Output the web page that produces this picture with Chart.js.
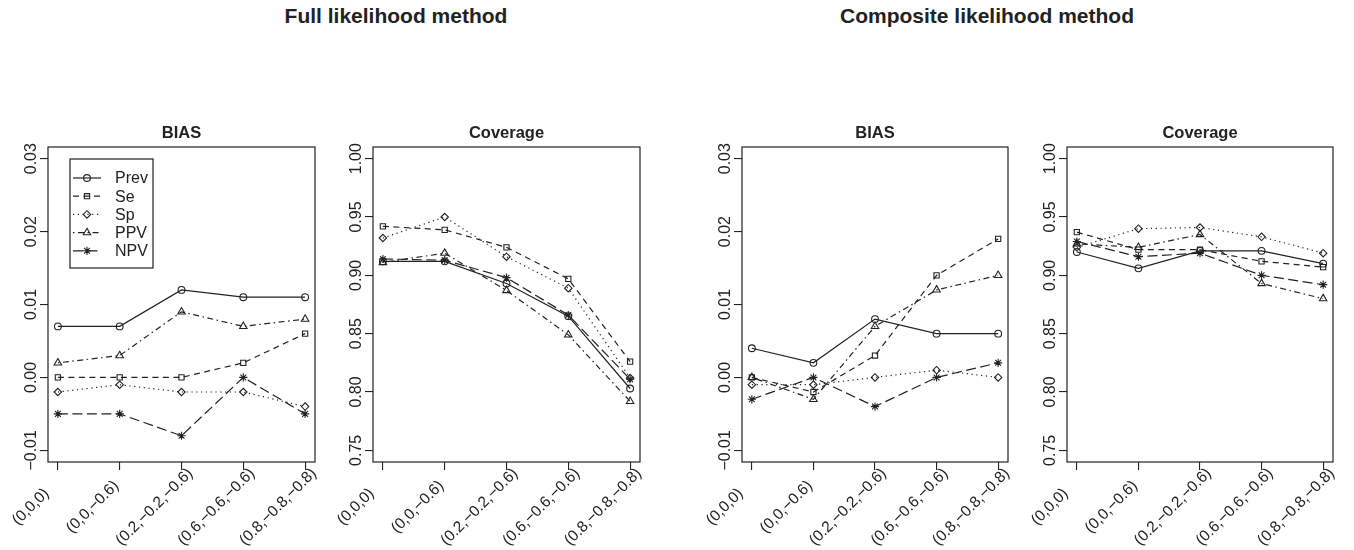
<!DOCTYPE html>
<html><head><meta charset="utf-8">
<script src="https://cdn.jsdelivr.net/npm/chart.js@4.4.1/dist/chart.umd.min.js"></script>
<style>
html,body{margin:0;padding:0;background:#fff;}
#wrap{position:relative;width:1354px;height:550px;overflow:hidden;background:#fff;}
canvas{position:absolute;left:0;top:0;}
.mt{position:absolute;top:4px;width:500px;text-align:center;font:bold 21px "Liberation Sans",Arial,sans-serif;line-height:24px;color:#222;}
</style></head><body>
<div id="wrap">
<div class="mt" style="left:146px">Full likelihood method</div>
<div class="mt" style="left:737px">Composite likelihood method</div>
<canvas id="c1" width="1354" height="550"></canvas>
<canvas id="c2" width="1354" height="550"></canvas>
<canvas id="c3" width="1354" height="550"></canvas>
<canvas id="c4" width="1354" height="550"></canvas>
</div>
<script>
// ---------- data ----------
const categories = ['(0,0,0)', '(0,0,\u22120.6)', '(0.2,\u22120.2,\u22120.6)', '(0.6,\u22120.6,\u22120.6)', '(0.8,\u22120.8,\u22120.8)'];
const seriesNames = ['Prev', 'Se', 'Sp', 'PPV', 'NPV'];
const biasTicks = [-0.01, 0.00, 0.01, 0.02, 0.03];
const biasTickLabels = ['\u22120.01', '0.00', '0.01', '0.02', '0.03'];
const coverageTicks = [0.75, 0.80, 0.85, 0.90, 0.95, 1.00];
const coverageTickLabels = ['0.75', '0.80', '0.85', '0.90', '0.95', '1.00'];

// Full likelihood method - BIAS
const fullBiasPrev = [0.007, 0.007, 0.012, 0.011, 0.011];
const fullBiasSe   = [0.000, 0.000, 0.000, 0.002, 0.006];
const fullBiasSp   = [-0.002, -0.001, -0.002, -0.002, -0.004];
const fullBiasPPV  = [0.002, 0.003, 0.009, 0.007, 0.008];
const fullBiasNPV  = [-0.005, -0.005, -0.008, 0.000, -0.005];

// Full likelihood method - Coverage
const fullCovPrev = [0.912, 0.912, 0.893, 0.865, 0.803];
const fullCovSe   = [0.942, 0.939, 0.924, 0.897, 0.826];
const fullCovSp   = [0.932, 0.950, 0.916, 0.889, 0.812];
const fullCovPPV  = [0.911, 0.919, 0.887, 0.849, 0.792];
const fullCovNPV  = [0.914, 0.913, 0.898, 0.866, 0.811];

// Composite likelihood method - BIAS
const compBiasPrev = [0.004, 0.002, 0.008, 0.006, 0.006];
const compBiasSe   = [0.000, -0.002, 0.003, 0.014, 0.019];
const compBiasSp   = [-0.001, -0.001, 0.000, 0.001, 0.000];
const compBiasPPV  = [0.000, -0.003, 0.007, 0.012, 0.014];
const compBiasNPV  = [-0.003, 0.000, -0.004, 0.000, 0.002];

// Composite likelihood method - Coverage
const compCovPrev = [0.920, 0.906, 0.921, 0.921, 0.910];
const compCovSe   = [0.937, 0.922, 0.922, 0.912, 0.907];
const compCovSp   = [0.924, 0.940, 0.941, 0.933, 0.919];
const compCovPPV  = [0.927, 0.924, 0.935, 0.893, 0.880];
const compCovNPV  = [0.929, 0.916, 0.919, 0.900, 0.892];

// ---------- styling ----------
const INK = '#222';
const FONT = '"Liberation Sans", Arial, Helvetica, sans-serif';
const seriesStyles = [
  {pointStyle: 'circle',   radius: 3.4, dash: []},
  {pointStyle: 'rect',     radius: 3.7, dash: [6, 4.5]},
  {pointStyle: 'rectRot',  radius: 3.7, dash: [1.2, 3.6]},
  {pointStyle: 'triangle', radius: 4.3, dash: [1.5, 3.5, 6, 3.5]},
  {pointStyle: 'star',     radius: 4.1, dash: [10, 4.5]}
];

function extRange(lo, hi) { const d = (hi - lo) * 0.04; return [lo - d, hi + d]; }

function makeDatasets(arrs) {
  return arrs.map((vals, k) => ({
    label: seriesNames[k],
    data: vals.map((v, i) => ({x: i + 1, y: v})),
    borderColor: INK,
    borderWidth: 1.2,
    borderDash: seriesStyles[k].dash,
    pointStyle: seriesStyles[k].pointStyle,
    pointRadius: seriesStyles[k].radius,
    pointBorderWidth: 1.1,
    pointBorderColor: INK,
    pointBackgroundColor: 'rgba(0,0,0,0)',
    fill: false,
    tension: 0
  }));
}

function drawMarker(ctx, style, radius, x, y) {
  ctx.setLineDash([]);
  ctx.strokeStyle = INK; ctx.fillStyle = 'rgba(0,0,0,0)'; ctx.lineWidth = 1.1;
  if (Chart.helpers && Chart.helpers.drawPoint) {
    Chart.helpers.drawPoint(ctx, {pointStyle: style, radius: radius, rotation: 0, borderWidth: 1.1}, x, y);
  } else {
    ctx.beginPath(); ctx.arc(x, y, radius, 0, Math.PI * 2); ctx.stroke();
  }
}

const decorPlugin = {
  id: 'decor',
  afterDraw(chart) {
    const cfg = chart.options.plugins.decor;
    const ctx = chart.ctx, a = chart.chartArea;
    ctx.save();
    ctx.setLineDash([]);
    ctx.strokeStyle = INK; ctx.lineWidth = 1.2;
    ctx.strokeRect(a.left, a.top, a.right - a.left, a.bottom - a.top);
    ctx.fillStyle = INK;
    // panel title
    ctx.font = 'bold 16.5px ' + FONT;
    ctx.textAlign = 'center'; ctx.textBaseline = 'alphabetic';
    ctx.fillText(cfg.title, (a.left + a.right) / 2, a.top - 9);
    // y tick labels (parallel to axis)
    const ys = chart.scales.y;
    ctx.font = '16px ' + FONT;
    cfg.yTicks.forEach((v, i) => {
      const py = ys.getPixelForValue(v);
      ctx.save(); ctx.translate(a.left - 12, py); ctx.rotate(-Math.PI / 2);
      ctx.textAlign = 'center'; ctx.textBaseline = 'alphabetic';
      ctx.fillText(cfg.yLabels[i], 0, 0); ctx.restore();
    });
    // x tick labels (45 degrees)
    const xs = chart.scales.x;
    ctx.font = '15.5px ' + FONT;
    categories.forEach((c, i) => {
      const px = xs.getPixelForValue(i + 1);
      ctx.save(); ctx.translate(px - 27, a.bottom + 45); ctx.rotate(-Math.PI / 4);
      ctx.textAlign = 'center'; ctx.textBaseline = 'middle';
      ctx.fillText(c, 0, 0); ctx.restore();
    });
    // legend
    if (cfg.legend) {
      const lx = a.left + 22, ly = a.top + 12;
      ctx.lineWidth = 1.2; ctx.strokeStyle = INK;
      ctx.strokeRect(lx, ly, 83, 109);
      chart.data.datasets.forEach((ds, k) => {
        const y = a.top + 31 + k * 18.2;
        ctx.save();
        ctx.setLineDash(ds.borderDash || []);
        ctx.lineWidth = 1.2; ctx.strokeStyle = INK;
        ctx.beginPath(); ctx.moveTo(a.left + 25, y); ctx.lineTo(a.left + 53, y); ctx.stroke();
        drawMarker(ctx, ds.pointStyle, ds.pointRadius, a.left + 39, y);
        ctx.restore();
        ctx.fillStyle = INK; ctx.font = '16px ' + FONT;
        ctx.textAlign = 'left'; ctx.textBaseline = 'middle';
        ctx.fillText(ds.label, a.left + 67, y + 1);
      });
    }
    ctx.restore();
  }
};

function makeChart(id, box, title, arrs, yTicks, yLabels, legend) {
  const yr = extRange(yTicks[0], yTicks[yTicks.length - 1]);
  const xr = extRange(1, categories.length);
  const axisGrid = {display: true, drawOnChartArea: false, drawTicks: true, tickLength: 8, color: INK, lineWidth: 1.1};
  return new Chart(document.getElementById(id), {
    type: 'line',
    data: {datasets: makeDatasets(arrs)},
    options: {
      responsive: false, animation: false, devicePixelRatio: 1,
      layout: {padding: {left: box.l, right: 1354 - box.r, top: box.t, bottom: 550 - box.b}},
      plugins: {legend: {display: false}, tooltip: {enabled: false}, title: {display: false},
        decor: {title: title, yTicks: yTicks, yLabels: yLabels, legend: legend}},
      scales: {
        x: {type: 'linear', min: xr[0], max: xr[1],
            afterBuildTicks: s => { s.ticks = categories.map((c, i) => ({value: i + 1})); },
            afterFit: s => { s.height = 0; },
            ticks: {display: false}, grid: axisGrid, border: {display: false}},
        y: {type: 'linear', min: yr[0], max: yr[1],
            afterBuildTicks: s => { s.ticks = yTicks.map(v => ({value: v})); },
            afterFit: s => { s.width = 0; },
            ticks: {display: false}, grid: axisGrid, border: {display: false}}
      }
    },
    plugins: [decorPlugin]
  });
}

makeChart('c1', {l: 48, r: 315, t: 147, b: 462}, 'BIAS',
  [fullBiasPrev, fullBiasSe, fullBiasSp, fullBiasPPV, fullBiasNPV], biasTicks, biasTickLabels, true);
makeChart('c2', {l: 373, r: 640, t: 147, b: 462}, 'Coverage',
  [fullCovPrev, fullCovSe, fullCovSp, fullCovPPV, fullCovNPV], coverageTicks, coverageTickLabels, false);
makeChart('c3', {l: 742, r: 1008, t: 147, b: 462}, 'BIAS',
  [compBiasPrev, compBiasSe, compBiasSp, compBiasPPV, compBiasNPV], biasTicks, biasTickLabels, false);
makeChart('c4', {l: 1067, r: 1333, t: 147, b: 462}, 'Coverage',
  [compCovPrev, compCovSe, compCovSp, compCovPPV, compCovNPV], coverageTicks, coverageTickLabels, false);
</script>
</body></html>
